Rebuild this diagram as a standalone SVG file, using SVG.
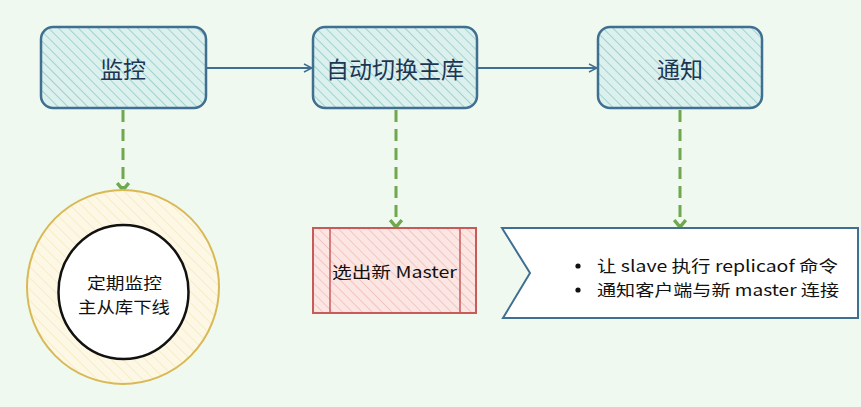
<svg xmlns="http://www.w3.org/2000/svg" width="861" height="407" viewBox="0 0 861 407">
<defs>
<pattern id="hBlue" patternUnits="userSpaceOnUse" width="7" height="7" patternTransform="rotate(-45)">
<rect width="7" height="7" fill="#dcf0ee"/>
<line x1="0" y1="0" x2="0" y2="7" stroke="#9fd3cf" stroke-width="2"/>
</pattern>
<pattern id="hRed" patternUnits="userSpaceOnUse" width="7" height="7" patternTransform="rotate(-45)">
<rect width="7" height="7" fill="#fbe6e4"/>
<line x1="0" y1="0" x2="0" y2="7" stroke="#f4c4c0" stroke-width="2"/>
</pattern>
<pattern id="hYel" patternUnits="userSpaceOnUse" width="8" height="8" patternTransform="rotate(-45)">
<rect width="8" height="8" fill="#fdf8e6"/>
<line x1="0" y1="0" x2="0" y2="8" stroke="#f9ecc4" stroke-width="2"/>
</pattern>
<marker id="arr" viewBox="0 0 10 10" refX="9" refY="5" markerWidth="10" markerHeight="10" orient="auto" markerUnits="userSpaceOnUse">
<path d="M1,1 L9,5 L1,9" fill="none" stroke="#3f6f91" stroke-width="1.5"/>
</marker>
<marker id="garr" viewBox="0 0 12 12" refX="6" refY="10" markerWidth="14" markerHeight="14" orient="0" markerUnits="userSpaceOnUse">
<path d="M1,4 L6,10 L11,4" fill="none" stroke="#6fa84f" stroke-width="3"/>
</marker>
</defs>
<style>
.box{fill:url(#hBlue);stroke:#3f6f91;stroke-width:2.5}
.t{font-family:"Noto Sans CJK SC","Noto Sans",sans-serif;fill:#1c3553;font-size:23px;text-anchor:middle;dominant-baseline:central}
.s{font-family:"Noto Sans CJK SC","Noto Sans",sans-serif;fill:#111;font-size:16px;dominant-baseline:central}
.dash{stroke:#6fa84f;stroke-width:3;stroke-dasharray:12 7;fill:none}
.conn{stroke:#3f6f91;stroke-width:1.8;fill:none}
</style>
<rect width="861" height="407" fill="#f0f9ef"/>
<g id="connectors">
<line class="conn" x1="206" y1="68" x2="312" y2="68" marker-end="url(#arr)"/>
<line class="conn" x1="477" y1="68" x2="597" y2="68" marker-end="url(#arr)"/>
<line class="dash" x1="123" y1="110" x2="123" y2="190" marker-end="url(#garr)"/>
<line class="dash" x1="396" y1="110" x2="396" y2="227" marker-end="url(#garr)"/>
<line class="dash" x1="680" y1="110" x2="680" y2="227" marker-end="url(#garr)"/>
</g>
<g id="monitor">
<rect class="box" x="41" y="27" width="165" height="81" rx="12"/>
<text class="t" x="123" y="68">监控</text>
</g>
<g id="failover">
<rect class="box" x="313" y="27" width="164" height="81" rx="12"/>
<text class="t" x="395" y="68">自动切换主库</text>
</g>
<g id="notify">
<rect class="box" x="598" y="27" width="164" height="81" rx="12"/>
<text class="t" x="680" y="68">通知</text>
</g>
<g id="check">
<ellipse cx="123" cy="287" rx="96" ry="97" fill="url(#hYel)" stroke="#d9b955" stroke-width="2"/>
<ellipse cx="123.5" cy="292" rx="65" ry="67" fill="#ffffff" stroke="#111" stroke-width="2.5"/>
<text class="s" x="87" y="282" textLength="75" lengthAdjust="spacingAndGlyphs">定期监控</text>
<text class="s" x="78" y="306" textLength="92" lengthAdjust="spacingAndGlyphs">主从库下线</text>
</g>
<g id="elect">
<rect x="313" y="228" width="163" height="85" fill="url(#hRed)" stroke="#c85a5a" stroke-width="2"/>
<line x1="330" y1="228" x2="330" y2="313" stroke="#c85a5a" stroke-width="1.5"/>
<line x1="460" y1="228" x2="460" y2="313" stroke="#c85a5a" stroke-width="1.5"/>
<text class="s" x="332" y="271" textLength="125" lengthAdjust="spacingAndGlyphs">选出新 Master</text>
</g>
<g id="actions">
<path d="M502,228 L858,228 L858,318 L503,318 L530,273 Z" fill="#ffffff" stroke="#3f6f91" stroke-width="2"/>
<circle cx="578" cy="266" r="2.6" fill="#111"/>
<text class="s" x="597" y="265" textLength="241" lengthAdjust="spacingAndGlyphs">让 slave 执行 replicaof 命令</text>
<circle cx="578" cy="290" r="2.6" fill="#111"/>
<text class="s" x="597" y="289" textLength="242" lengthAdjust="spacingAndGlyphs">通知客户端与新 master 连接</text>
</g>
</svg>
